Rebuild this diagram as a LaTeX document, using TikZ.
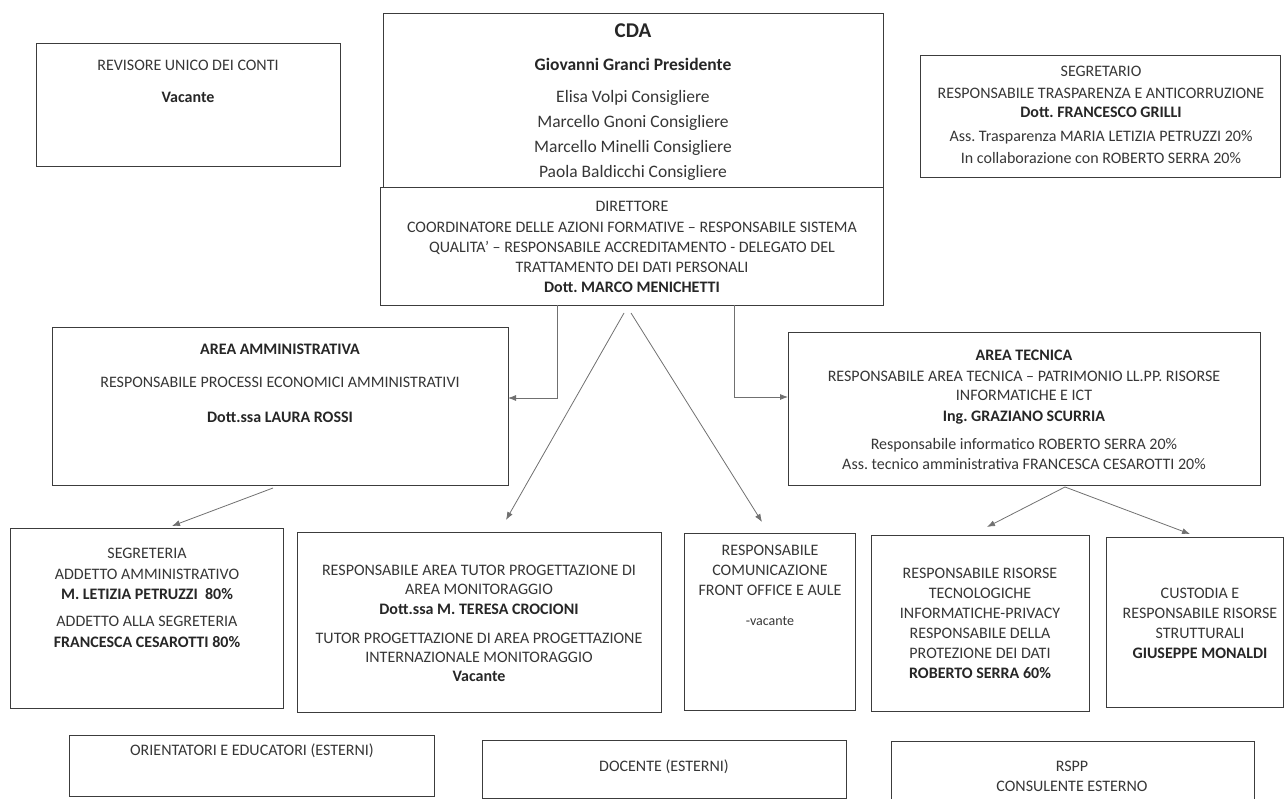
\documentclass[tikz,border=0pt]{standalone}
\usepackage{fontspec}
\setmainfont{Carlito}
\usetikzlibrary{arrows.meta}
\definecolor{ink}{HTML}{363636}
\definecolor{inkb}{HTML}{262626}
\definecolor{edge}{HTML}{3C3C3C}
\definecolor{wire}{HTML}{707070}
\tikzset{
  box/.style={draw=edge, line width=1.3pt, inner sep=0pt, fill=none},
  txt/.style={anchor=base, inner sep=0pt, text=ink, font=\fontsize{16}{20}\selectfont},
  bt/.style={anchor=base, inner sep=0pt, text=inkb, font=\fontsize{16}{20}\selectfont\bfseries},
  big/.style={anchor=base, inner sep=0pt, text=ink, font=\fontsize{17.5}{21}\selectfont},
  bigb/.style={anchor=base, inner sep=0pt, text=inkb, font=\fontsize{17.5}{21}\selectfont\bfseries},
  ttl/.style={anchor=base, inner sep=0pt, text=inkb, font=\fontsize{21}{25}\selectfont\bfseries},
  sml/.style={anchor=base, inner sep=0pt, text=ink, font=\fontsize{14}{17}\selectfont},
  wirearrow/.style={draw=wire, line width=0.8pt, -{Latex[length=8pt,width=6pt]}},
}
\newcommand{\Bx}[5]{\node[box, anchor=north west, minimum width={(#4)-(#2)}, minimum height={(#5)-(#3)}] (#1) at (#2,#3) {};}
\frenchspacing
\begin{document}
\begin{tikzpicture}[x=1pt,y=-1pt]
\useasboundingbox (0,0) rectangle (1285,799);
\clip (0,0) rectangle (1285,799);

% ---- boxes ----
\Bx{rev}{36}{43}{340}{166}
\Bx{cda}{383}{13}{883}{187}
\Bx{dir}{380}{187}{883}{305}
\Bx{seg}{920}{55}{1280}{177}
\Bx{amm}{52}{327}{508}{485}
\Bx{tec}{788}{332}{1260}{485}
\Bx{sgr}{10}{528}{283}{708}
\Bx{tut}{297}{532}{661}{712}
\Bx{com}{684}{533}{855}{710}
\Bx{ris}{871}{535}{1089}{711}
\Bx{cus}{1106}{537}{1283}{707}
\Bx{ori}{69}{735}{434}{796}
\Bx{doc}{482}{740}{846}{798}
\Bx{rsp}{891}{741}{1254}{810}

% ---- texts ----
\node[txt] (rev1) at (188,71) {REVISORE UNICO DEI CONTI};
\node[bt]  (rev2) at (188,103) {Vacante};

\node[ttl]  (cda1) at (633,38) {CDA};
\node[bigb] (cda2) at (633,71) {Giovanni Granci Presidente};
\node[big]  (cda3) at (633,103) {Elisa Volpi Consigliere};
\node[big]  (cda4) at (633,128) {Marcello Gnoni Consigliere};
\node[big]  (cda5) at (633,153) {Marcello Minelli Consigliere};
\node[big]  (cda6) at (633,178) {Paola Baldicchi Consigliere};

\node[txt] (dir1) at (632,212) {DIRETTORE};
\node[txt] (dir2) at (632,233) {COORDINATORE DELLE AZIONI FORMATIVE – RESPONSABILE SISTEMA};
\node[txt] (dir3) at (632,253) {QUALITA’ – RESPONSABILE ACCREDITAMENTO - DELEGATO DEL};
\node[txt] (dir4) at (632,273) {TRATTAMENTO DEI DATI PERSONALI};
\node[bt]  (dir5) at (632,293) {Dott. MARCO MENICHETTI};

\node[txt] (seg1) at (1101,77) {SEGRETARIO};
\node[txt] (seg2) at (1101,99) {RESPONSABILE TRASPARENZA E ANTICORRUZIONE};
\node[bt]  (seg3) at (1101,118) {Dott. FRANCESCO GRILLI};
\node[txt] (seg4) at (1101,142) {Ass. Trasparenza MARIA LETIZIA PETRUZZI 20\%};
\node[txt] (seg5) at (1101,164) {In collaborazione con ROBERTO SERRA 20\%};

\node[bt]  (amm1) at (280,355) {AREA AMMINISTRATIVA};
\node[txt] (amm2) at (280,388) {RESPONSABILE PROCESSI ECONOMICI AMMINISTRATIVI};
\node[bt]  (amm3) at (280,422) {Dott.ssa LAURA ROSSI};

\node[bt]  (tec1) at (1024,361) {AREA TECNICA};
\node[txt] (tec2) at (1024,382) {RESPONSABILE AREA TECNICA – PATRIMONIO LL.PP. RISORSE};
\node[txt] (tec3) at (1024,401) {INFORMATICHE E ICT};
\node[bt]  (tec4) at (1024,421) {Ing. GRAZIANO SCURRIA};
\node[txt] (tec5) at (1024,449) {Responsabile informatico ROBERTO SERRA 20\%};
\node[txt] (tec6) at (1024,469) {Ass. tecnico amministrativa FRANCESCA CESAROTTI 20\%};

\node[txt] (sgr1) at (147,558) {SEGRETERIA};
\node[txt] (sgr2) at (147,579) {ADDETTO AMMINISTRATIVO};
\node[bt]  (sgr3) at (147,599) {M. LETIZIA PETRUZZI\ \ 80\%};
\node[txt] (sgr4) at (147,626) {ADDETTO ALLA SEGRETERIA};
\node[bt]  (sgr5) at (147,647) {FRANCESCA CESAROTTI 80\%};

\node[txt] (tut1) at (479,575) {RESPONSABILE AREA TUTOR PROGETTAZIONE DI};
\node[txt] (tut2) at (479,594) {AREA MONITORAGGIO};
\node[bt]  (tut3) at (479,614) {Dott.ssa M. TERESA CROCIONI};
\node[txt] (tut4) at (479,643) {TUTOR PROGETTAZIONE DI AREA PROGETTAZIONE};
\node[txt] (tut5) at (479,662) {INTERNAZIONALE MONITORAGGIO};
\node[bt]  (tut6) at (479,681) {Vacante};

\node[txt] (com1) at (770,555) {RESPONSABILE};
\node[txt] (com2) at (770,575) {COMUNICAZIONE};
\node[txt] (com3) at (770,595) {FRONT OFFICE E AULE};
\node[sml] (com4) at (770,625) {-vacante};

\node[txt] (ris1) at (980,578) {RESPONSABILE RISORSE};
\node[txt] (ris2) at (980,598) {TECNOLOGICHE};
\node[txt] (ris3) at (980,618) {INFORMATICHE-PRIVACY};
\node[txt] (ris4) at (980,638) {RESPONSABILE DELLA};
\node[txt] (ris5) at (980,658) {PROTEZIONE DEI DATI};
\node[bt]  (ris6) at (980,678) {ROBERTO SERRA 60\%};

\node[txt] (cus1) at (1200,598) {CUSTODIA E};
\node[txt] (cus2) at (1200,618) {RESPONSABILE RISORSE};
\node[txt] (cus3) at (1200,638) {STRUTTURALI};
\node[bt]  (cus4) at (1200,658) {GIUSEPPE MONALDI};

\node[txt] (ori1) at (252,755) {ORIENTATORI E EDUCATORI (ESTERNI)};
\node[txt] (doc1) at (664,771) {DOCENTE (ESTERNI)};
\node[txt] (rsp1) at (1072,771) {RSPP};
\node[txt] (rsp2) at (1072,791) {CONSULENTE ESTERNO};

% ---- connector end points ----
\coordinate (dA) at (557,305);
\coordinate (dAt) at (508,398);
\coordinate (dB) at (734,305);
\coordinate (dBt) at (788,397);
\coordinate (dL) at (624,313);
\coordinate (dLt) at (506,520);
\coordinate (dR) at (631,313);
\coordinate (dRt) at (762,522);
\coordinate (aS) at (273,488);
\coordinate (aSt) at (172,526);
\coordinate (tS) at (1065,487);
\coordinate (tLt) at (987,527);
\coordinate (tRt) at (1190,534);

% ---- connectors ----
\draw[wirearrow] (dA) |- (dAt);
\draw[wirearrow] (dB) |- (dBt);
\draw[wirearrow] (dL) -- (dLt);
\draw[wirearrow] (dR) -- (dRt);
\draw[wirearrow] (aS) -- (aSt);
\draw[wirearrow] (tS) -- (tLt);
\draw[wirearrow] (tS) -- (tRt);
\end{tikzpicture}
\end{document}
